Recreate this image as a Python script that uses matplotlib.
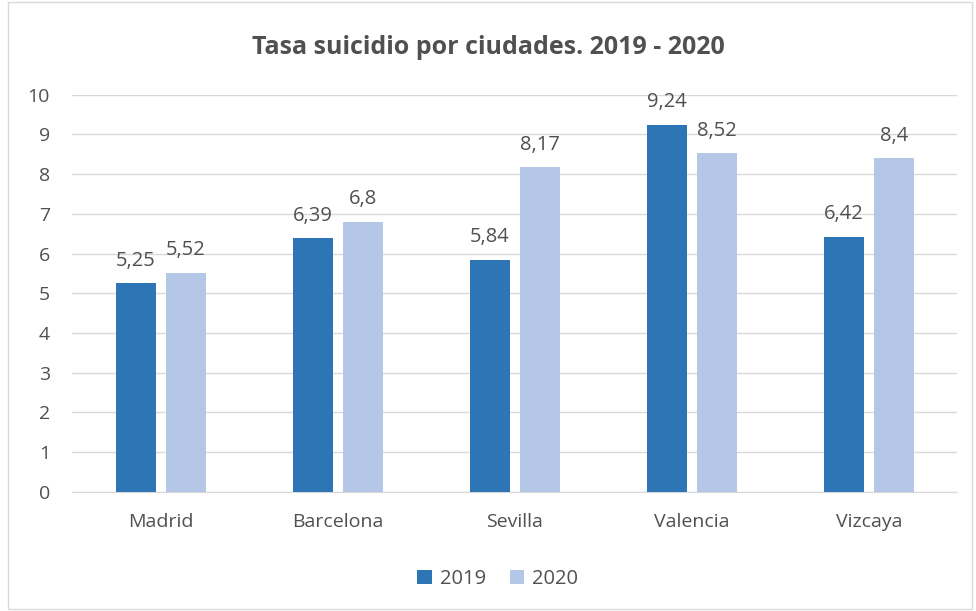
import numpy as np
import matplotlib.pyplot as plt
from matplotlib.patches import Rectangle

plt.rcParams['font.family'] = ['Open Sans', 'DejaVu Sans']

ciudades = ["Madrid", "Barcelona", "Sevilla", "Valencia", "Vizcaya"]
tasa_2019 = [5.25, 6.39, 5.84, 9.24, 6.42]
tasa_2020 = [5.52, 6.8, 8.17, 8.52, 8.4]
etiquetas_2019 = ["5,25", "6,39", "5,84", "9,24", "6,42"]
etiquetas_2020 = ["5,52", "6,8", "8,17", "8,52", "8,4"]

c2019 = "#2E75B6"
c2020 = "#B4C7E7"
texto = "#505050"

fig = plt.figure(figsize=(9.76, 6.11), dpi=100)
ax = fig.add_axes([0.074, 0.195, 0.907, 0.65])

x = np.arange(len(ciudades))
w = 0.226
off = 0.141
b1 = ax.bar(x - off, tasa_2019, w, color=c2019, label="2019", zorder=3)
b2 = ax.bar(x + off, tasa_2020, w, color=c2020, label="2020", zorder=3)

for bars, labs in ((b1, etiquetas_2019), (b2, etiquetas_2020)):
    for bar, lab in zip(bars, labs):
        ax.annotate(lab, (bar.get_x() + bar.get_width() / 2, bar.get_height()),
                    xytext=(0, 9), textcoords="offset points",
                    ha="center", va="bottom", fontsize=14.5, color=texto)

ax.set_xlim(-0.5, len(ciudades) - 0.5)
ax.set_ylim(0, 10)
ax.set_yticks(range(0, 11))
ax.set_xticks(x)
ax.set_xticklabels(ciudades)
ax.tick_params(axis="both", length=0, labelsize=14, colors=texto)
ax.tick_params(axis="x", pad=15)
ax.tick_params(axis="y", pad=16)
ax.grid(axis="y", color="#D9D9D9", linewidth=1, zorder=0)
for s in ["top", "right", "left"]:
    ax.spines[s].set_visible(False)
ax.spines["bottom"].set_color("#D9D9D9")

fig.suptitle("Tasa suicidio por ciudades. 2019 - 2020", y=0.942,
             fontsize=18, fontweight="bold", color=texto)

fig.legend(handles=[b1, b2], loc="center", bbox_to_anchor=(0.51, 0.053),
           ncol=2, frameon=False, fontsize=14.5, handlelength=0.7,
           handleheight=0.7, handletextpad=0.4, columnspacing=1.2,
           labelcolor=texto)

fig.patches.append(Rectangle((0.008, 0.004), 0.988, 0.992, transform=fig.transFigure,
                             fill=False, edgecolor="#D9D9D9", linewidth=1))

fig.savefig("out.png", dpi=100)
